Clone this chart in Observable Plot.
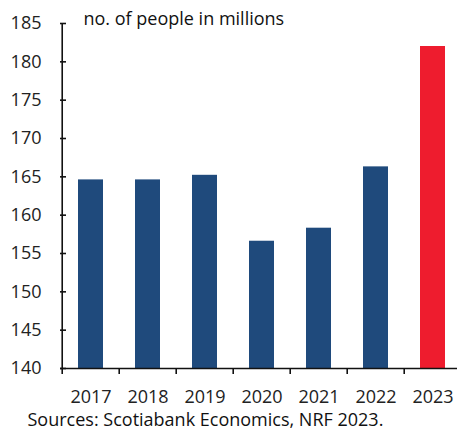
<!DOCTYPE html>
<html>
<head>
<meta charset="utf-8">
<script src="https://cdn.jsdelivr.net/npm/d3@7"></script>
<script src="https://cdn.jsdelivr.net/npm/@observablehq/plot@0.6"></script>
<style>
  html, body { margin: 0; padding: 0; background: #fff; overflow: hidden; width: 457px; height: 430px; }
  #chart svg { display: block; max-width: none !important; font-family: "Open Sans", "Noto Sans", sans-serif; }
</style>
</head>
<body>
<div id="chart"></div>
<script>
const years = ["2017", "2018", "2019", "2020", "2021", "2022", "2023"];
const shoppers = [164.6, 164.6, 165.2, 156.6, 158.3, 166.3, 182.0];
const highlight = [false, false, false, false, false, false, true];
const yTicks = [140, 145, 150, 155, 160, 165, 170, 175, 180, 185];
const subtitle = "no. of people in millions";
const caption = "Sources: Scotiabank Economics, NRF 2023.";

const data = years.map((y, i) => ({year: y, value: shoppers[i], hl: highlight[i]}));

const W = 463, H = 430, ML = 60, MR = 0, MT = 23, MB = 62;
const step = (W - ML - MR) / years.length;

const chart = Plot.plot({
  width: W,
  height: H,
  marginLeft: ML,
  marginRight: MR,
  marginTop: MT,
  marginBottom: MB,
  style: {fontSize: "18px", fontFamily: "'Open Sans', 'Noto Sans', sans-serif", color: "#111", background: "#fff", maxWidth: "none"},
  x: {domain: years, paddingInner: 0.56, paddingOuter: 0.28, align: 0.5},
  y: {domain: [140, 185]},
  marks: [
    Plot.barY(data, {x: "year", y1: 140, y2: "value", fill: d => d.hl ? "#ee1c2e" : "#1f4a7c"}),
    Plot.axisY({ticks: yTicks, tickSize: 0, tickPadding: 19, fill: "#222", fontSize: 18, label: null}),
    Plot.axisX({tickSize: 0, tickPadding: 22, fill: "#222", fontSize: 18, label: null}),
    // inward y ticks
    Plot.tickY(yTicks, {y: d => d, insetRight: W - ML - MR - 6, stroke: "#111", strokeWidth: 1.6}),
    // left axis line
    Plot.ruleX(["2017"], {x: d => d, y1: 140, y2: 185, dx: -step / 2, stroke: "#111", strokeWidth: 1.6}),
    // bottom axis line
    Plot.ruleY([140], {stroke: "#111", strokeWidth: 1.6}),
    // x ticks at band boundaries, pointing down
    Plot.ruleX(years, {x: d => d, y1: 140, y2: 140, insetBottom: -6, dx: -step / 2, stroke: "#111", strokeWidth: 1.6}),
    Plot.text([subtitle], {text: d => d, frameAnchor: "top-left", dx: 23, dy: -4, textAnchor: "start", lineAnchor: "middle", fontSize: 18, fill: "#111", style: {letterSpacing: "0.4px"}}),
    Plot.text([caption], {text: d => d, frameAnchor: "bottom-left", dx: -33, dy: 52, textAnchor: "start", lineAnchor: "middle", fontSize: 18, fill: "#111", style: {letterSpacing: "0.5px"}})
  ]
});
document.getElementById("chart").append(chart);
</script>
</body>
</html>
